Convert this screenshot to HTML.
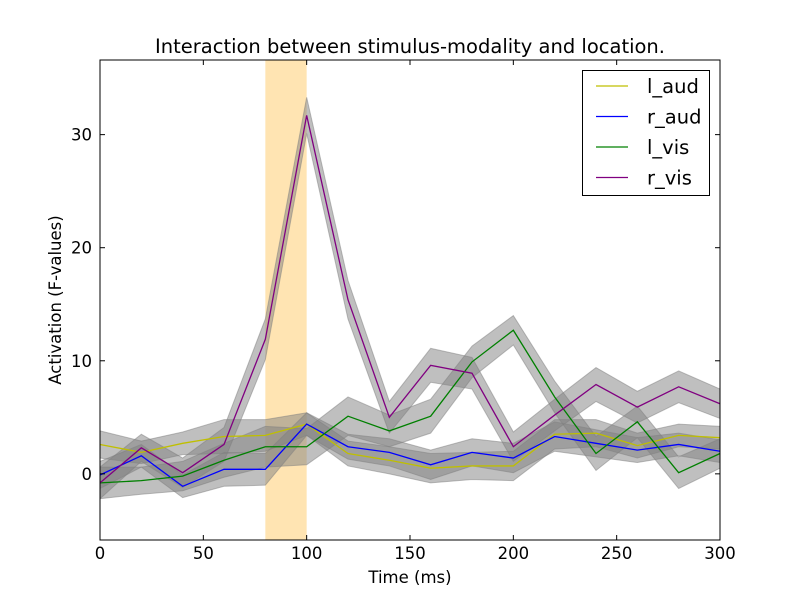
<!DOCTYPE html>
<html><head><meta charset="utf-8"><style>
body{margin:0;background:#fff;}
svg{font-family:"DejaVu Sans","Liberation Sans",sans-serif;}
</style></head><body>
<svg id="chart" width="800" height="600">
<rect width="800" height="600" fill="#fff"/>
<text x="410" y="53" font-size="19.5" text-anchor="middle">Interaction between stimulus-modality and location.</text>
<text x="410" y="583" font-size="16.5" text-anchor="middle">Time (ms)</text>
<text transform="translate(61,300) rotate(-90)" font-size="16.5" text-anchor="middle">Activation (F-values)</text>
<g id="plot"></g>
</svg>
<script>
const times=[0,20,40,60,80,100,120,140,160,180,200,220,240,260,280,300];
const seriesNames=["l_aud","r_aud","l_vis","r_vis"];
const lAud=[2.6,1.9,2.7,3.3,3.4,4.4,1.8,1.2,0.5,0.7,0.7,3.5,3.6,2.5,3.4,3.2];
const rAud=[-0.1,1.6,-1.1,0.4,0.4,4.4,2.4,1.9,0.8,1.9,1.4,3.3,2.7,2.1,2.6,2.0];
const lVis=[-0.8,-0.6,-0.2,1.2,2.4,2.4,5.1,3.8,5.1,9.9,12.7,6.8,1.8,4.6,0.1,1.8];
const rVis=[-0.8,2.3,0.1,2.6,11.9,31.7,15.4,5.0,9.6,8.9,2.4,5.2,7.9,5.9,7.7,6.2];
const errAud=[1.2,1.0,1.0,1.5,1.4,1.0,1.1,1.2,1.3,1.2,1.3,1.3,1.2,1.1,1.0,1.0];
const errVis=[1.4,1.2,1.3,1.5,1.8,1.6,1.7,1.4,1.5,1.4,1.3,1.4,1.5,1.4,1.4,1.3];
const xTicks=[0,50,100,150,200,250,300];
const yTicks=[0,10,20,30];
const spanStart=80, spanEnd=100;
const colors=["#bfbf00","#0000ff","#008000","#800080"];
const L=100,R=720,T=60,B=540,xMin=0,xMax=300,yMin=-5.85,yMax=36.6;
const sx=v=>L+(v-xMin)/(xMax-xMin)*(R-L);
const sy=v=>B-(v-yMin)/(yMax-yMin)*(B-T);
const NS="http://www.w3.org/2000/svg";
const g=document.getElementById('plot');
function mk(t,a){const e=document.createElementNS(NS,t);for(const k in a)e.setAttribute(k,a[k]);g.appendChild(e);return e;}
const span=mk('rect',{x:sx(spanStart),y:T,width:sx(spanEnd)-sx(spanStart),height:B-T,fill:'#ffa500','fill-opacity':0.3});


const data=[lAud,rAud,lVis,rVis];
const errs=[errAud,errAud,errVis,errVis];
data.forEach((d,i)=>{
  const up=times.map((t,j)=>sx(t)+','+sy(d[j]+errs[i][j]));
  const dn=times.map((t,j)=>sx(t)+','+sy(d[j]-errs[i][j])).reverse();
  const p=mk('polygon',{points:up.concat(dn).join(' '),fill:'#808080','fill-opacity':0.5,stroke:'#808080','stroke-opacity':0.5,'stroke-width':1});
  
  
});
data.forEach((d,i)=>{
  const l=mk('polyline',{points:times.map((t,j)=>sx(t)+','+sy(d[j])).join(' '),fill:'none',stroke:colors[i],'stroke-width':1.3});
  
  
});
const frame=mk('rect',{x:L,y:T,width:R-L,height:B-T,fill:'none',stroke:'#000','stroke-width':1});


xTicks.forEach(v=>{
  const x=sx(v);
  mk('line',{x1:x,x2:x,y1:B,y2:B-5,stroke:'#000'});
  mk('line',{x1:x,x2:x,y1:T,y2:T+5,stroke:'#000'});
  const t=mk('text',{x:x,y:B+19,'font-size':16.5,'text-anchor':'middle'});t.textContent=v;
  
  
});
yTicks.forEach(v=>{
  const y=sy(v);
  mk('line',{x1:L,x2:L+5,y1:y,y2:y,stroke:'#000'});
  mk('line',{x1:R,x2:R-5,y1:y,y2:y,stroke:'#000'});
  const t=mk('text',{x:L-8,y:y+6,'font-size':16.5,'text-anchor':'end'});t.textContent=v;
  
  
});
const lg=mk('rect',{x:582.5,y:70.5,width:127,height:125,fill:'#fff',stroke:'#000'});


seriesNames.forEach((n,i)=>{
  const y=86+i*30.5;
  mk('line',{x1:596,x2:628,y1:y,y2:y,stroke:colors[i],'stroke-width':1.3});
  const t=mk('text',{x:647,y:y+7,'font-size':19.5});t.textContent=n;
  
  
});
</script>
</body></html>
